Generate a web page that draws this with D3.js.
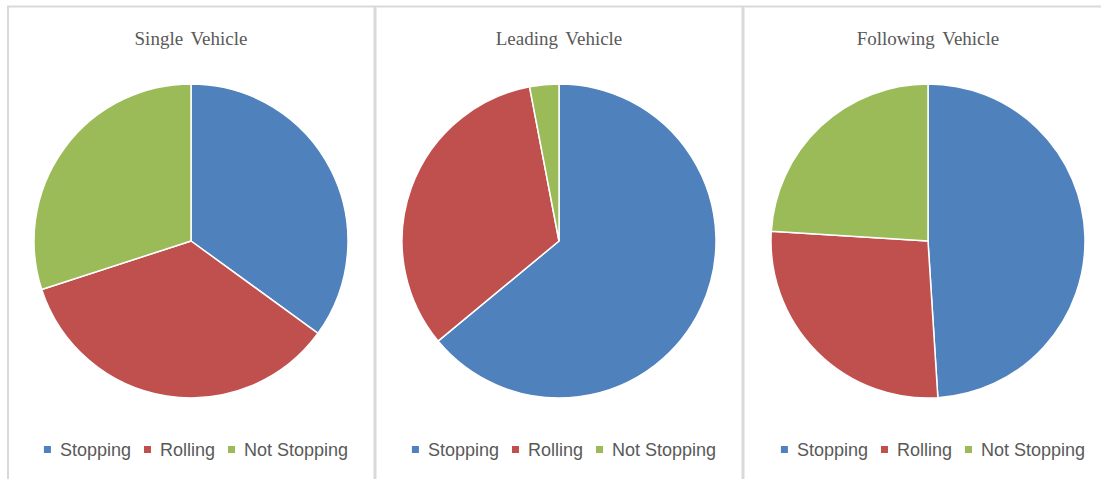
<!DOCTYPE html>
<html>
<head>
<meta charset="utf-8">
<script src="https://cdn.jsdelivr.net/npm/d3@7"></script>
<style>
  html, body { margin: 0; padding: 0; background: #ffffff; }
  svg { display: block; }
</style>
</head>
<body>
<svg id="chart" width="1101" height="479"></svg>
<script>
// Stop behaviour shares by vehicle position (percent)
const categories = ["Stopping", "Rolling", "Not Stopping"];
const panelTitles = ["Single Vehicle", "Leading Vehicle", "Following Vehicle"];
const singleVehicle = [35, 35, 30];
const leadingVehicle = [64, 33, 3];
const followingVehicle = [49, 27, 24];
const seriesValues = [singleVehicle, leadingVehicle, followingVehicle];

const colors = ["#4F81BD", "#C0504D", "#9BBB59"];

const svg = d3.select("#chart");
const W = 1101, H = 479;

// panel frames and pie centres
const panelLeft = [8, 375, 743];
const pieCx = [191, 559, 928];
const pieCy = 241, pieR = 157;

const color = d3.scaleOrdinal().domain(categories).range(colors);

// frame lines
const frame = svg.append("g").attr("stroke", "#d9d9d9").attr("fill", "none");
frame.append("line").attr("x1", 7).attr("x2", W).attr("y1", 6.5).attr("y2", 6.5).attr("stroke-width", 2);
panelLeft.forEach((x, i) => {
  frame.append("line").attr("x1", x).attr("x2", x).attr("y1", 6).attr("y2", H)
    .attr("stroke-width", i === 0 ? 2 : 3);
});

const pie = d3.pie().sort(null).value(d => d.value);
const arc = d3.arc().innerRadius(0).outerRadius(pieR);

seriesValues.forEach((vals, i) => {
  const cx = pieCx[i];
  const g = svg.append("g");

  g.append("text")
    .attr("x", cx).attr("y", 45)
    .attr("text-anchor", "middle")
    .attr("font-family", "'Liberation Serif', 'Times New Roman', serif")
    .attr("font-size", 19)
    .attr("word-spacing", 3)
    .attr("fill", "#595959")
    .text(panelTitles[i]);

  const data = categories.map((c, k) => ({ cat: c, value: vals[k] }));
  g.append("g").attr("transform", `translate(${cx},${pieCy})`)
    .selectAll("path").data(pie(data)).join("path")
    .attr("d", arc)
    .attr("fill", d => color(d.data.cat))
    .attr("stroke", "#ffffff")
    .attr("stroke-width", 1.5)
    .attr("stroke-linejoin", "round");

  // legend
  const leg = g.append("g");
  let x = 0;
  categories.forEach(c => {
    const it = leg.append("g").attr("transform", `translate(${x},0)`);
    it.append("rect").attr("x", 0).attr("y", -4).attr("width", 7).attr("height", 7)
      .attr("fill", color(c));
    const t = it.append("text").attr("x", 16).attr("y", 0)
      .attr("dy", "0.35em")
      .attr("font-family", "'Liberation Sans', Arial, sans-serif")
      .attr("font-size", 18)
      .attr("fill", "#595959")
      .text(c);
    const w = t.node().getComputedTextLength();
    x += 16 + w + 13;
  });
  const total = x - 13;
  leg.attr("transform", `translate(${cx + 5 - total / 2},450)`);
});
</script>
</body>
</html>
